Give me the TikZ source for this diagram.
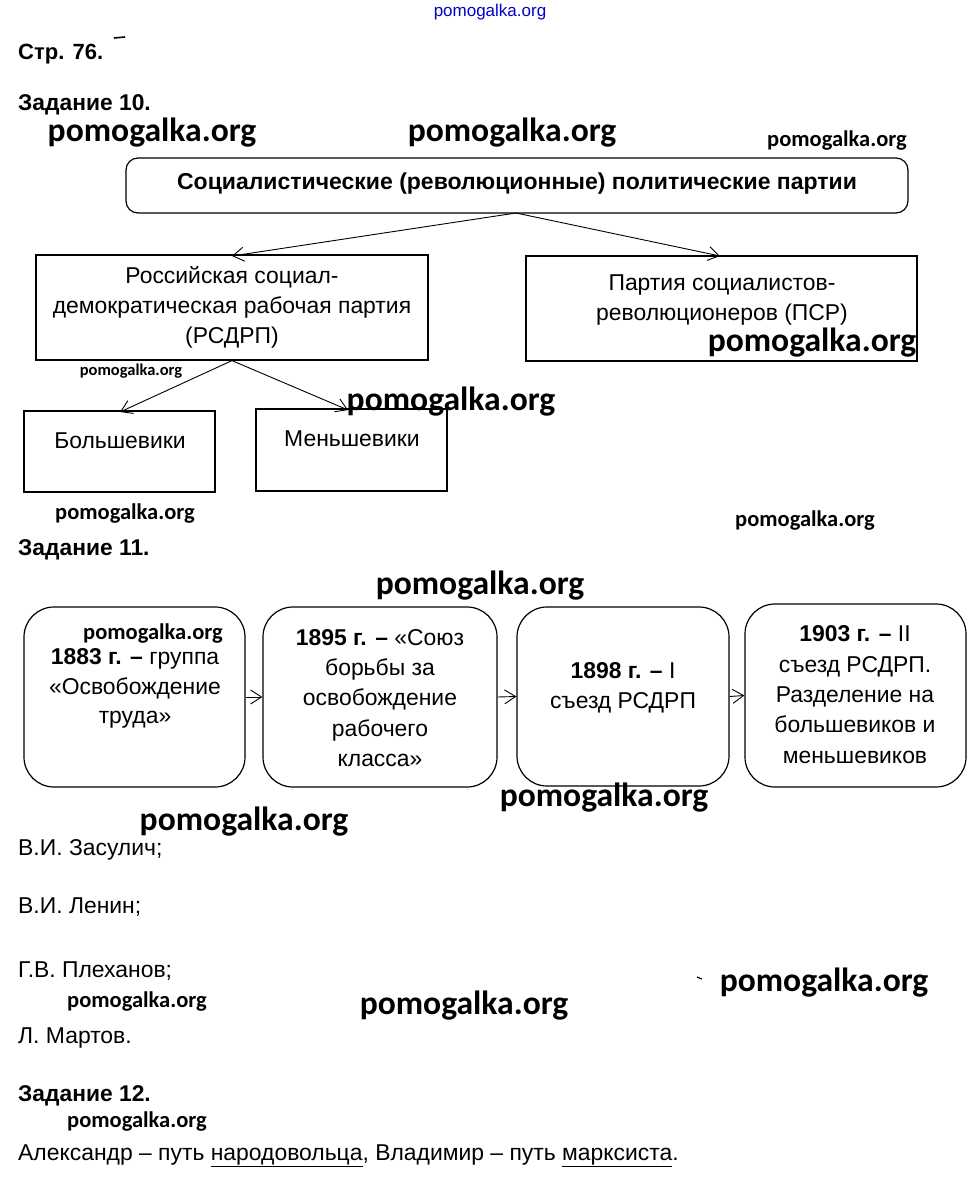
\documentclass[tikz,border=0pt]{standalone}
\usepackage{fontspec}
\setmainfont{Liberation Sans}
\newfontfamily\wmfont{Carlito}
\usetikzlibrary{arrows.meta}
\begin{document}
\begin{tikzpicture}[x=1pt,y=-1pt,
  wmbig/.style={font=\wmfont\bfseries\fontsize{33.6}{33.6}\selectfont, inner sep=0pt},
  wmmid/.style={font=\wmfont\bfseries\fontsize{22.5}{22.5}\selectfont, inner sep=0pt},
  wmsmall/.style={font=\wmfont\bfseries\fontsize{16.5}{16.5}\selectfont, inner sep=0pt},
  body/.style={font=\fontsize{22.9}{30}\selectfont, inner sep=0pt, anchor=base west},
  head/.style={font=\bfseries\fontsize{22.8}{30}\selectfont, inner sep=0pt, anchor=base west},
  ln/.style={font=\fontsize{22.9}{30}\selectfont, inner sep=0pt, anchor=base},
  sqbox/.style={draw, line width=1.2pt, inner sep=0pt},
  rbox/.style={draw, line width=1.2pt, rounded corners=30pt, inner sep=0pt},
  arr/.style={line width=0.9pt, -{Straight Barb[length=11pt,width=14pt]}},
]
\useasboundingbox (0,0) rectangle (977,1181);
\fill[white] (0,0) rectangle (977,1181);

% top blue watermark
\node[font=\fontsize{17}{17}\selectfont, text=blue!80!black, inner sep=0pt] (wtop) at (490,12) {pomogalka.org};

% headings
\node[head, font=\bfseries\fontsize{22}{30}\selectfont] (p76) at (18,59) {Стр. 76.};
\draw[line width=1.6pt] (114,38) -- (125,37);
\node[head] (z10) at (18,110) {Задание 10.};

% watermarks row
\node[wmbig] (w1) at (152,133) {pomogalka.org};
\node[wmbig] (w2) at (512,133) {pomogalka.org};
\node[wmmid] (w3) at (837,141) {pomogalka.org};

% task 10 boxes
\node[sqbox, rounded corners=12pt, minimum width=782pt, minimum height=55pt] (top) at (517,185.5) {};
\node[font=\bfseries\fontsize{23}{23}\selectfont, inner sep=0pt, anchor=base] (toptext) at (517,189.5) {Социалистические (революционные) политические партии};

\node[sqbox, minimum width=392pt, minimum height=105pt] (rsdrp) at (232,307.5) {};
\node[ln] (r1) at (232,283) {Российская социал-};
\node[ln] (r2) at (232,313) {демократическая рабочая партия};
\node[ln] (r3) at (232,343) {(РСДРП)};

\node[sqbox, minimum width=391pt, minimum height=105pt] (psr) at (721.5,308.5) {};
\node[ln] (s1) at (722,290) {Партия социалистов-};
\node[ln] (s2) at (722,320) {революционеров (ПСР)};

\coordinate (topS) at (516,213);
\draw[arr] (topS) -- (232,256);
\draw[arr] (topS) -- (720,256);

\node[wmbig] (w4) at (812,343) {pomogalka.org};
\node[wmsmall] (w5) at (131,371) {pomogalka.org};

\node[sqbox, minimum width=191pt, minimum height=81pt] (bol) at (119.5,451.5) {};
\node[ln] (bt) at (120,448) {Большевики};
\node[sqbox, minimum width=191pt, minimum height=82pt] (men) at (351.5,450) {};
\node[ln] (mt) at (352,446) {Меньшевики};

\draw[arr] (rsdrp.south) -- (120,412);
\draw[arr] (rsdrp.south) -- (348,410);

\node[wmbig] (w6) at (451,402) {pomogalka.org};
\node[wmmid] (w7) at (125,514) {pomogalka.org};
\node[wmmid] (w8) at (805,521) {pomogalka.org};

\node[head] (z11) at (18,555) {Задание 11.};
\node[wmbig] (w9) at (480,586) {pomogalka.org};

% task 11 timeline
\node[rbox, minimum width=221pt, minimum height=180pt] (t1) at (134.5,697) {};
\node[rbox, minimum width=234pt, minimum height=180pt] (t2) at (380,697) {};
\node[rbox, minimum width=212pt, minimum height=179pt] (t3) at (623,696.5) {};
\node[rbox, minimum width=221pt, minimum height=183pt] (t4) at (855.5,695.5) {};

\node[wmmid] (w10) at (153,634) {pomogalka.org};
\node[ln] (a1) at (135,664) {\textbf{1883 г. –} группа};
\node[ln] (a2) at (135,694) {«Освобождение};
\node[ln] (a3) at (135,723) {труда»};

\node[ln] (b1) at (380,645) {\textbf{1895 г. –} «Союз};
\node[ln] (b2) at (380,675) {борьбы за};
\node[ln] (b3) at (380,705) {освобождение};
\node[ln] (b4) at (380,736) {рабочего};
\node[ln] (b5) at (380,766) {класса»};

\node[ln] (c1) at (623,678) {\textbf{1898 г. –} I};
\node[ln] (c2) at (623,708) {съезд РСДРП};

\node[ln] (d1) at (855,641) {\textbf{1903 г. –} II};
\node[ln] (d2) at (855,672) {съезд РСДРП.};
\node[ln] (d3) at (855,702) {Разделение на};
\node[ln] (d4) at (855,732) {большевиков и};
\node[ln] (d5) at (855,763) {меньшевиков};

\draw[arr] (t1.east) -- (t2.west);
\draw[arr] (t2.east) -- (t3.west);
\draw[arr] (t3.east) -- (t4.west);

\node[wmbig] (w11) at (604,798) {pomogalka.org};
\node[wmbig] (w12) at (244,822) {pomogalka.org};

% names
\node[body] (n1) at (18,855) {В.И. Засулич;};
\node[body] (n2) at (18,913) {В.И. Ленин;};
\node[body] (n3) at (18,977) {Г.В. Плеханов;};
\node[wmmid] (w13) at (137,1001) {pomogalka.org};
\node[wmbig] (w14) at (464,1006) {pomogalka.org};
\draw[line width=1.2pt] (697,977) -- (702,979);
\node[wmbig] (w15) at (824,983) {pomogalka.org};
\node[body] (n4) at (18,1043) {Л. Мартов.};

\node[head] (z12) at (18,1101) {Задание 12.};
\node[wmmid] (w16) at (137,1121) {pomogalka.org};
\node[body] (last) at (18,1160) {Александр – путь \underline{народовольца}, Владимир – путь \underline{марксиста}.};
\end{tikzpicture}
\end{document}
